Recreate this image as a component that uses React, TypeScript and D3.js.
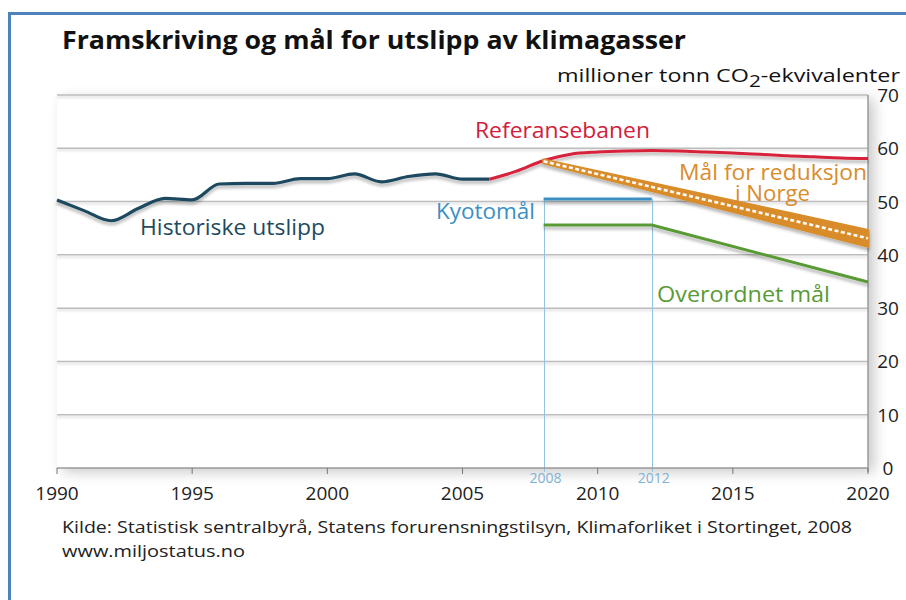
import React from 'react';
import * as d3 from 'd3';

const historicYears = [1990, 1991, 1992, 1993, 1994, 1995, 1996, 1997, 1998, 1999, 2000, 2001, 2002, 2003, 2004, 2005, 2006];
const historicValues = [50.3, 48.3, 46.4, 48.7, 50.6, 50.3, 53.3, 53.4, 53.4, 54.3, 54.3, 55.2, 53.7, 54.7, 55.2, 54.2, 54.2];

const referenceYears = [2006, 2007, 2008, 2009, 2010, 2011, 2012, 2013, 2014, 2015, 2016, 2017, 2018, 2019, 2020];
const referenceValues = [54.2, 55.7, 57.7, 58.9, 59.3, 59.5, 59.6, 59.5, 59.3, 59.1, 58.9, 58.6, 58.4, 58.2, 58.1];

const norwayYears = [2008, 2020];
const norwayUpper = [57.8, 44.6];
const norwayLower = [57.3, 41.6];

const kyotoYears = [2008, 2012];
const kyotoValues = [50.5, 50.5];

const overallYears = [2008, 2012, 2020];
const overallValues = [45.6, 45.6, 34.9];

const xTicks = [1990, 1995, 2000, 2005, 2010, 2015, 2020];
const yTicks = [0, 10, 20, 30, 40, 50, 60, 70];
const periodTicks = [2008, 2012];

const FONT = "'Open Sans', 'Noto Sans', sans-serif";

export default function App() {
  const W = 906;
  const H = 600;
  const x = d3.scaleLinear().domain([1990, 2020]).range([57, 868]);
  const y = d3.scaleLinear().domain([0, 70]).range([468, 95]);

  const lineGen = d3
    .line<[number, number]>()
    .x((d) => x(d[0]))
    .y((d) => y(d[1]))
    .curve(d3.curveMonotoneX);
  const straight = d3
    .line<[number, number]>()
    .x((d) => x(d[0]))
    .y((d) => y(d[1]));

  const hist = lineGen(historicYears.map((yr, i) => [yr, historicValues[i]]) as [number, number][]) || '';
  const ref = lineGen(referenceYears.map((yr, i) => [yr, referenceValues[i]]) as [number, number][]) || '';
  const kyoto = straight(kyotoYears.map((yr, i) => [yr, kyotoValues[i]]) as [number, number][]) || '';
  const overall = straight(overallYears.map((yr, i) => [yr, overallValues[i]]) as [number, number][]) || '';

  const bandArea = d3
    .area<number>()
    .x((_, i) => x(norwayYears[i]))
    .y0((_, i) => y(norwayLower[i]))
    .y1((_, i) => y(norwayUpper[i]));
  const band = bandArea(norwayYears) || '';
  const mid = straight(
    norwayYears.map((yr, i) => [yr, (norwayUpper[i] + norwayLower[i]) / 2]) as [number, number][]
  ) || '';

  const x0 = x(1990);
  const x1 = x(2020);
  const yTop = y(70);
  const yBase = y(0);

  return (
    <svg
      width={W}
      height={H}
      viewBox={`0 0 ${W} ${H}`}
      style={{ position: 'absolute', left: 0, top: 0, background: '#fff' }}
      fontFamily={FONT}
    >
      <defs>
        <filter id="panelShadow" x="-10%" y="-10%" width="125%" height="125%">
          <feGaussianBlur in="SourceAlpha" stdDeviation="7" />
          <feOffset dx="6" dy="4" result="b" />
          <feComponentTransfer>
            <feFuncA type="linear" slope="0.22" />
          </feComponentTransfer>
          <feMerge>
            <feMergeNode />
            <feMergeNode in="SourceGraphic" />
          </feMerge>
        </filter>
        <filter id="lineShadow" x="-5%" y="-50%" width="110%" height="200%">
          <feDropShadow dx="0" dy="3" stdDeviation="1.8" floodColor="#000" floodOpacity="0.28" />
        </filter>
        <filter id="gridShadow" x="-5%" y="-200%" width="110%" height="500%">
          <feDropShadow dx="0" dy="2" stdDeviation="1" floodColor="#000" floodOpacity="0.15" />
        </filter>
      </defs>

      <rect x={0} y={0} width={W} height={H} fill="#fff" />
      {/* frame */}
      <path d={`M9.5,${H + 5} V13.5 H${W + 5}`} fill="none" stroke="#4f81bd" strokeWidth={3} />

      {/* title */}
      <text x={62} y={49} fontSize={25} fontWeight={700} fill="#111" textLength={624} lengthAdjust="spacingAndGlyphs">
        Framskriving og mål for utslipp av klimagasser
      </text>
      <text x={557} y={82} fontSize={19} fill="#111" textLength={343} lengthAdjust="spacingAndGlyphs">
        millioner tonn CO
        <tspan dy={5} fontSize={17}>2</tspan>
        <tspan dy={-5}>-ekvivalenter</tspan>
      </text>

      {/* panel */}
      <rect x={x0} y={yTop} width={x1 - x0} height={yBase - yTop} fill="#fff" filter="url(#panelShadow)" />

      {/* gridlines */}
      <g filter="url(#gridShadow)">
        {yTicks
          .filter((t) => t > 0)
          .map((t) => (
            <line key={t} x1={x0} x2={x1} y1={y(t)} y2={y(t)} stroke="#bdbdbd" strokeWidth={1.5} />
          ))}
      </g>

      {/* period verticals */}
      {periodTicks.map((p) => (
        <line
          key={p}
          x1={Math.round(x(p)) + 0.5}
          x2={Math.round(x(p)) + 0.5}
          y1={y(kyotoValues[0])}
          y2={yBase + 4}
          stroke="#92c3e0"
          strokeWidth={1}
        />
      ))}

      {/* axes */}
      <line x1={x0} x2={x1} y1={yBase} y2={yBase} stroke="#9a9a9a" strokeWidth={1.5} />
      <line x1={x1} x2={x1} y1={yTop} y2={yBase + 4} stroke="#9a9a9a" strokeWidth={1.5} />
      {xTicks.map((t) => (
        <line key={t} x1={x(t)} x2={x(t)} y1={yBase} y2={yBase + 6} stroke="#777" strokeWidth={1} />
      ))}
      {xTicks.map((t) => (
        <text key={t} x={x(t)} y={500} fontSize={19} textAnchor="middle" fill="#222">
          {t}
        </text>
      ))}
      {yTicks.map((t) => (
        <text key={t} x={888} y={y(t) + 7} fontSize={19} textAnchor="middle" fill="#222">
          {t}
        </text>
      ))}
      {periodTicks.map((p) => (
        <text key={p} x={x(p) + 2} y={483} fontSize={14} textAnchor="middle" fill="#7fb2d4">
          {p}
        </text>
      ))}

      {/* series */}
      <g filter="url(#lineShadow)">
        <path d={hist} fill="none" stroke="#1e4a5e" strokeWidth={3.2} strokeLinejoin="round" />
        <path d={ref} fill="none" stroke="#d7213b" strokeWidth={3} strokeLinejoin="round" />
        <path d={band} fill="#d98c2a" stroke="#d98c2a" strokeWidth={3} strokeLinejoin="round" />
        <path d={kyoto} fill="none" stroke="#3a8fc3" strokeWidth={3} />
        <path d={overall} fill="none" stroke="#5a9a36" strokeWidth={3} strokeLinejoin="round" />
      </g>
      <path d={mid} fill="none" stroke="#fff" strokeWidth={2.6} strokeDasharray="4 2.5" opacity={0.95} />

      {/* labels */}
      <text x={475} y={138} fontSize={22} fill="#d2203a" textLength={175} lengthAdjust="spacingAndGlyphs">
        Referansebanen
      </text>
      <text x={679} y={180} fontSize={21} fill="#d98c2a" textLength={188} lengthAdjust="spacingAndGlyphs">
        Mål for reduksjon
      </text>
      <text x={735} y={201} fontSize={21} fill="#d98c2a" textLength={75} lengthAdjust="spacingAndGlyphs">
        i Norge
      </text>
      <text x={436} y={219} fontSize={22} fill="#3a8fc3" textLength={99} lengthAdjust="spacingAndGlyphs">
        Kyotomål
      </text>
      <text x={140} y={235} fontSize={22} fill="#1e4a5e" textLength={185} lengthAdjust="spacingAndGlyphs">
        Historiske utslipp
      </text>
      <text x={657} y={302} fontSize={22} fill="#5a9a36" textLength={173} lengthAdjust="spacingAndGlyphs">
        Overordnet mål
      </text>

      {/* source */}
      <text x={62} y={533} fontSize={17} fill="#222" textLength={790} lengthAdjust="spacingAndGlyphs">
        Kilde: Statistisk sentralbyrå, Statens forurensningstilsyn, Klimaforliket i Stortinget, 2008
      </text>
      <text x={62} y={557} fontSize={17} fill="#222" textLength={183} lengthAdjust="spacingAndGlyphs">
        www.miljostatus.no
      </text>
    </svg>
  );
}
